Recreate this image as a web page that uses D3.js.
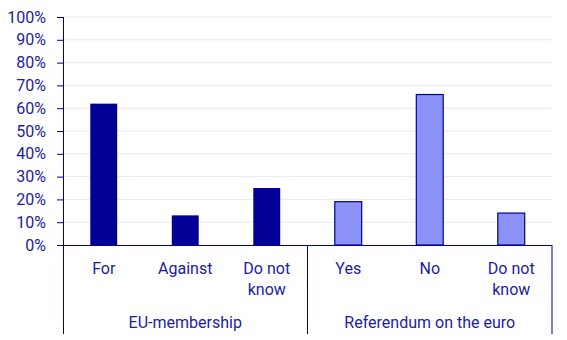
<!DOCTYPE html>
<html>
<head>
  <meta charset="utf-8">
  <title>EU-membership and referendum on the euro</title>
  <style>
    body{
      margin: 0;
      padding: 0;
      background-color: #fff;
    }
    .chart text{
      font-family: Roboto, "Noto Sans", sans-serif;
      font-size: 16px;
      fill: #1c1ca0;
    }
  </style>
</head>
<body>
<svg class="chart"></svg>
<script src="https://d3js.org/d3.v7.min.js"></script>
<script>

// data
var groups = ["EU-membership", "Referendum on the euro"];
var categories = ["For", "Against", "Do not know", "Yes", "No", "Do not know "];
var groupOf = [0, 0, 0, 1, 1, 1];
var values = [62, 13, 25, 19, 66, 14];
var yTicks = [0, 10, 20, 30, 40, 50, 60, 70, 80, 90, 100];

var W = 567, H = 340;
var margin = {top: 17, right: 15, bottom: 95, left: 63},
    width = W - margin.left - margin.right,
    height = H - margin.top - margin.bottom;

var axisColor = "#000096";
var darkFill = "#000096";
var lightFill = "#8c91f5";

var svg = d3.select(".chart")
    .attr("width", W)
    .attr("height", H)
    .append("g")
    .attr("transform", "translate(" + margin.left + "," + margin.top + ")");

var x = d3.scaleBand()
    .domain(categories)
    .range([0, width])
    .padding(0);

var y = d3.scaleLinear()
    .domain([0, 100])
    .range([height, 0]);

// gridlines
svg.append("g")
  .selectAll("line")
  .data(yTicks.slice(1))
  .enter().append("line")
    .attr("x1", 0)
    .attr("x2", width)
    .attr("y1", function(d) { return y(d); })
    .attr("y2", function(d) { return y(d); })
    .attr("stroke", "#e8e8fa")
    .attr("stroke-width", 1);

// y axis
var yAxis = svg.append("g")
    .call(d3.axisLeft(y).tickValues(yTicks).tickSize(6).tickPadding(11)
      .tickFormat(function(d) { return d + "%"; }));
yAxis.select(".domain").remove();
yAxis.selectAll(".tick line").attr("stroke", axisColor);
yAxis.attr("font-size", null).attr("font-family", null);

// bars
var barW = x.bandwidth() * 0.33;
svg.selectAll(".bar")
    .data(values)
    .enter().append("rect")
    .attr("class", "bar")
    .attr("x", function(d, i) { return x(categories[i]) + (x.bandwidth() - barW) / 2; })
    .attr("width", barW)
    .attr("y", function(d) { return y(d); })
    .attr("height", function(d) { return height - y(d); })
    .attr("fill", function(d, i) { return groupOf[i] === 0 ? darkFill : lightFill; })
    .attr("stroke", function(d, i) { return groupOf[i] === 0 ? "none" : axisColor; })
    .attr("stroke-width", 1.2);

// axis lines
var bottom = H - margin.top - 6;
svg.append("line")
    .attr("x1", 0.5).attr("x2", 0.5)
    .attr("y1", 0).attr("y2", bottom)
    .attr("stroke", axisColor);
svg.append("line")
    .attr("x1", -6).attr("x2", width)
    .attr("y1", height + 0.5).attr("y2", height + 0.5)
    .attr("stroke", axisColor);

// group separators
var groupEdges = [3, 6];
svg.selectAll(".sep")
    .data(groupEdges)
    .enter().append("line")
    .attr("class", "sep")
    .attr("x1", function(d) { return x(categories[d - 1]) + x.bandwidth(); })
    .attr("x2", function(d) { return x(categories[d - 1]) + x.bandwidth(); })
    .attr("y1", height)
    .attr("y2", bottom)
    .attr("stroke", axisColor);

// category labels, wrapped
var catLabels = svg.selectAll(".cat")
    .data(categories)
    .enter().append("text")
    .attr("class", "cat")
    .attr("text-anchor", "middle")
    .attr("transform", function(d) { return "translate(" + (x(d) + x.bandwidth() / 2) + "," + (height + 29) + ")"; });
catLabels.each(function(d) {
  var words = d.trim() === "Do not know" ? ["Do not", "know"] : [d.trim()];
  var t = d3.select(this);
  words.forEach(function(w, j) {
    t.append("tspan").attr("x", 0).attr("y", j * 21).text(w);
  });
});

// group labels
svg.selectAll(".grp")
    .data(groups)
    .enter().append("text")
    .attr("class", "grp")
    .attr("text-anchor", "middle")
    .attr("x", function(d, g) {
      var first = categories[g * 3], last = categories[g * 3 + 2];
      return (x(first) + x(last) + x.bandwidth()) / 2;
    })
    .attr("y", height + 83)
    .text(function(d) { return d; });

</script>
</body>
</html>
